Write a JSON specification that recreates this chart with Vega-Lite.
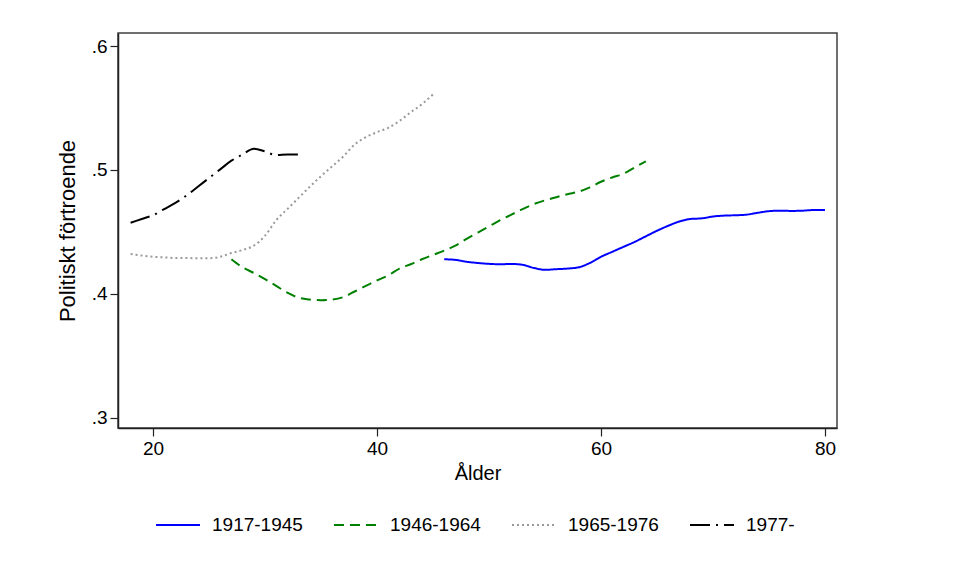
{
  "$schema": "https://vega.github.io/schema/vega-lite/v6.json",
  "autosize": "none",
  "width": 719,
  "height": 395,
  "padding": {"left": 118, "top": 33, "right": 137, "bottom": 151},
  "background": "white",
  "config": {
    "font": "Liberation Sans",
    "view": {"stroke": "#404040", "strokeWidth": 1.5},
    "axis": {"grid": false, "domainColor": "#222222", "domainWidth": 1.5, "tickColor": "#222222", "tickSize": 8, "tickWidth": 1.2, "labelFontSize": 19, "labelColor": "#000000", "titleFontSize": 20, "titleFontWeight": "normal", "titleColor": "#000000", "labelPadding": 3}
  },
  "data": {"values": [
    {"age": 46, "v": 0.428, "g": "1917-1945"},
    {"age": 47, "v": 0.4275, "g": "1917-1945"},
    {"age": 48, "v": 0.426, "g": "1917-1945"},
    {"age": 49, "v": 0.425, "g": "1917-1945"},
    {"age": 50, "v": 0.4243, "g": "1917-1945"},
    {"age": 51, "v": 0.424, "g": "1917-1945"},
    {"age": 52, "v": 0.4242, "g": "1917-1945"},
    {"age": 53, "v": 0.4235, "g": "1917-1945"},
    {"age": 54, "v": 0.421, "g": "1917-1945"},
    {"age": 55, "v": 0.4195, "g": "1917-1945"},
    {"age": 56, "v": 0.42, "g": "1917-1945"},
    {"age": 57, "v": 0.4205, "g": "1917-1945"},
    {"age": 58, "v": 0.4215, "g": "1917-1945"},
    {"age": 59, "v": 0.425, "g": "1917-1945"},
    {"age": 60, "v": 0.43, "g": "1917-1945"},
    {"age": 61, "v": 0.434, "g": "1917-1945"},
    {"age": 62, "v": 0.438, "g": "1917-1945"},
    {"age": 63, "v": 0.442, "g": "1917-1945"},
    {"age": 64, "v": 0.4465, "g": "1917-1945"},
    {"age": 65, "v": 0.451, "g": "1917-1945"},
    {"age": 66, "v": 0.455, "g": "1917-1945"},
    {"age": 67, "v": 0.4585, "g": "1917-1945"},
    {"age": 68, "v": 0.4605, "g": "1917-1945"},
    {"age": 69, "v": 0.461, "g": "1917-1945"},
    {"age": 70, "v": 0.4625, "g": "1917-1945"},
    {"age": 71, "v": 0.4632, "g": "1917-1945"},
    {"age": 72, "v": 0.4635, "g": "1917-1945"},
    {"age": 73, "v": 0.464, "g": "1917-1945"},
    {"age": 74, "v": 0.4655, "g": "1917-1945"},
    {"age": 75, "v": 0.4668, "g": "1917-1945"},
    {"age": 76, "v": 0.4672, "g": "1917-1945"},
    {"age": 77, "v": 0.467, "g": "1917-1945"},
    {"age": 78, "v": 0.4672, "g": "1917-1945"},
    {"age": 79, "v": 0.4677, "g": "1917-1945"},
    {"age": 80, "v": 0.4677, "g": "1917-1945"},
    {"age": 27, "v": 0.428, "g": "1946-1964"},
    {"age": 28, "v": 0.4215, "g": "1946-1964"},
    {"age": 29, "v": 0.417, "g": "1946-1964"},
    {"age": 30, "v": 0.412, "g": "1946-1964"},
    {"age": 31, "v": 0.4065, "g": "1946-1964"},
    {"age": 32, "v": 0.401, "g": "1946-1964"},
    {"age": 33, "v": 0.397, "g": "1946-1964"},
    {"age": 34, "v": 0.3955, "g": "1946-1964"},
    {"age": 35, "v": 0.395, "g": "1946-1964"},
    {"age": 36, "v": 0.3955, "g": "1946-1964"},
    {"age": 37, "v": 0.3975, "g": "1946-1964"},
    {"age": 38, "v": 0.402, "g": "1946-1964"},
    {"age": 39, "v": 0.4065, "g": "1946-1964"},
    {"age": 40, "v": 0.411, "g": "1946-1964"},
    {"age": 41, "v": 0.415, "g": "1946-1964"},
    {"age": 42, "v": 0.4205, "g": "1946-1964"},
    {"age": 43, "v": 0.424, "g": "1946-1964"},
    {"age": 44, "v": 0.428, "g": "1946-1964"},
    {"age": 45, "v": 0.4315, "g": "1946-1964"},
    {"age": 46, "v": 0.435, "g": "1946-1964"},
    {"age": 47, "v": 0.439, "g": "1946-1964"},
    {"age": 48, "v": 0.4445, "g": "1946-1964"},
    {"age": 49, "v": 0.4495, "g": "1946-1964"},
    {"age": 50, "v": 0.4545, "g": "1946-1964"},
    {"age": 51, "v": 0.4595, "g": "1946-1964"},
    {"age": 52, "v": 0.464, "g": "1946-1964"},
    {"age": 53, "v": 0.4685, "g": "1946-1964"},
    {"age": 54, "v": 0.4725, "g": "1946-1964"},
    {"age": 55, "v": 0.4755, "g": "1946-1964"},
    {"age": 56, "v": 0.478, "g": "1946-1964"},
    {"age": 57, "v": 0.4805, "g": "1946-1964"},
    {"age": 58, "v": 0.4825, "g": "1946-1964"},
    {"age": 59, "v": 0.486, "g": "1946-1964"},
    {"age": 60, "v": 0.4905, "g": "1946-1964"},
    {"age": 61, "v": 0.494, "g": "1946-1964"},
    {"age": 62, "v": 0.497, "g": "1946-1964"},
    {"age": 63, "v": 0.502, "g": "1946-1964"},
    {"age": 64, "v": 0.507, "g": "1946-1964"},
    {"age": 18, "v": 0.4322, "g": "1965-1976"},
    {"age": 19, "v": 0.431, "g": "1965-1976"},
    {"age": 20, "v": 0.43, "g": "1965-1976"},
    {"age": 21, "v": 0.4295, "g": "1965-1976"},
    {"age": 22, "v": 0.429, "g": "1965-1976"},
    {"age": 23, "v": 0.429, "g": "1965-1976"},
    {"age": 24, "v": 0.4288, "g": "1965-1976"},
    {"age": 25, "v": 0.4288, "g": "1965-1976"},
    {"age": 26, "v": 0.43, "g": "1965-1976"},
    {"age": 27, "v": 0.433, "g": "1965-1976"},
    {"age": 28, "v": 0.4355, "g": "1965-1976"},
    {"age": 29, "v": 0.439, "g": "1965-1976"},
    {"age": 30, "v": 0.447, "g": "1965-1976"},
    {"age": 31, "v": 0.4595, "g": "1965-1976"},
    {"age": 32, "v": 0.4685, "g": "1965-1976"},
    {"age": 33, "v": 0.4775, "g": "1965-1976"},
    {"age": 34, "v": 0.4865, "g": "1965-1976"},
    {"age": 35, "v": 0.495, "g": "1965-1976"},
    {"age": 36, "v": 0.503, "g": "1965-1976"},
    {"age": 37, "v": 0.511, "g": "1965-1976"},
    {"age": 38, "v": 0.5205, "g": "1965-1976"},
    {"age": 39, "v": 0.5265, "g": "1965-1976"},
    {"age": 40, "v": 0.5305, "g": "1965-1976"},
    {"age": 41, "v": 0.534, "g": "1965-1976"},
    {"age": 42, "v": 0.5395, "g": "1965-1976"},
    {"age": 43, "v": 0.5465, "g": "1965-1976"},
    {"age": 44, "v": 0.553, "g": "1965-1976"},
    {"age": 45, "v": 0.561, "g": "1965-1976"},
    {"age": 18, "v": 0.4575, "g": "1977-"},
    {"age": 19, "v": 0.4605, "g": "1977-"},
    {"age": 20, "v": 0.4635, "g": "1977-"},
    {"age": 21, "v": 0.4685, "g": "1977-"},
    {"age": 22, "v": 0.4735, "g": "1977-"},
    {"age": 23, "v": 0.4795, "g": "1977-"},
    {"age": 24, "v": 0.4865, "g": "1977-"},
    {"age": 25, "v": 0.4935, "g": "1977-"},
    {"age": 26, "v": 0.5005, "g": "1977-"},
    {"age": 27, "v": 0.5075, "g": "1977-"},
    {"age": 28, "v": 0.5125, "g": "1977-"},
    {"age": 29, "v": 0.5172, "g": "1977-"},
    {"age": 30, "v": 0.515, "g": "1977-"},
    {"age": 31, "v": 0.512, "g": "1977-"},
    {"age": 32, "v": 0.5125, "g": "1977-"},
    {"age": 33, "v": 0.5125, "g": "1977-"}
  ]},
  "mark": {"type": "line", "strokeWidth": 2, "interpolate": "monotone"},
  "encoding": {
    "x": {"field": "age", "type": "quantitative", "scale": {"domain": [16.875, 81.07], "nice": false, "zero": false},
      "axis": {"values": [20, 40, 60, 80], "title": "Ålder", "titlePadding": 5}},
    "y": {"field": "v", "type": "quantitative", "scale": {"domain": [0.2919, 0.6105], "nice": false, "zero": false},
      "axis": {"values": [0.3, 0.4, 0.5, 0.6], "labelExpr": "replace(format(datum.value, '.1f'), '0.', '.')", "title": "Politiskt förtroende", "titleFontSize": 22, "titlePadding": 12}},
    "color": {"field": "g", "type": "nominal",
      "scale": {"domain": ["1917-1945", "1946-1964", "1965-1976", "1977-"], "range": ["#0000ff", "#008000", "#999999", "#000000"]},
      "legend": {"title": null, "orient": "none", "legendX": 37, "legendY": 469, "direction": "horizontal", "columns": 4,
        "symbolType": "stroke", "symbolSize": 1936, "symbolStrokeWidth": 2, "labelFontSize": 19, "labelColor": "#000000", "labelOffset": 11, "columnPadding": 27}},
    "strokeDash": {"field": "g", "type": "nominal",
      "scale": {"domain": ["1917-1945", "1946-1964", "1965-1976", "1977-"], "range": [[1, 0], [10, 6], [2, 3], [20, 6, 2, 6]]},
      "legend": null}
  }
}
